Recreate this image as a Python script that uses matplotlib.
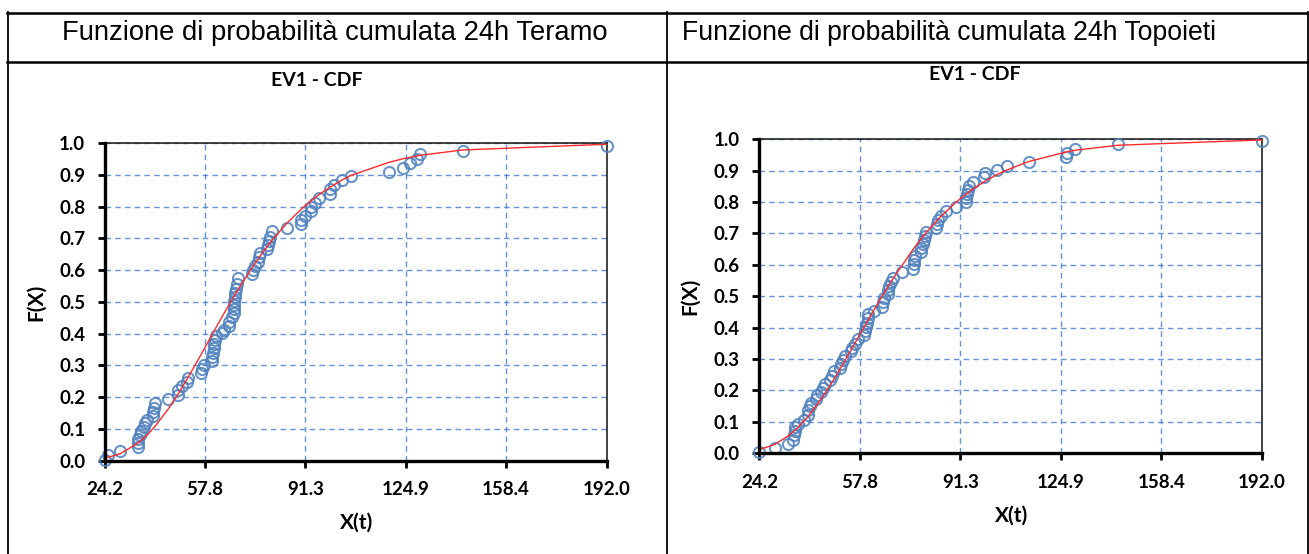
import matplotlib.pyplot as plt
from matplotlib.lines import Line2D

W, H = 1309, 554

# EV1 (Gumbel) CDF, piogge massime 24h - Teramo
teramo_x = [24.2, 25.3, 29.3, 35.2, 35.2, 35.4, 35.9, 36.5, 37.2, 37.8,
            38.3, 40.4, 40.5, 40.8, 41.0, 45.5, 48.6, 48.8, 50.2, 51.7,
            52.2, 56.4, 56.6, 57.5, 60.0, 60.2, 60.4, 60.7, 60.9, 61.1,
            61.4, 63.4, 64.0, 65.6, 65.9, 66.9, 67.3, 67.4, 67.5, 67.6,
            67.7, 67.8, 68.1, 68.4, 68.7, 73.6, 73.9, 74.5, 75.6, 75.9,
            76.2, 78.5, 78.8, 79.2, 79.6, 80.1, 85.2, 89.8, 90.0, 91.3,
            93.1, 93.3, 94.5, 96.0, 99.4, 99.6, 100.9, 103.5, 106.6, 119.3,
            123.8, 126.4, 128.6, 129.5, 143.9, 192.0]
teramo_p = [0.003, 0.017, 0.029, 0.042, 0.056, 0.068, 0.080, 0.093, 0.105, 0.118,
            0.129, 0.139, 0.153, 0.166, 0.181, 0.195, 0.208, 0.221, 0.234, 0.248,
            0.261, 0.275, 0.288, 0.301, 0.314, 0.326, 0.339, 0.354, 0.366, 0.380,
            0.393, 0.402, 0.410, 0.423, 0.436, 0.451, 0.464, 0.477, 0.491, 0.503,
            0.516, 0.529, 0.542, 0.556, 0.574, 0.587, 0.600, 0.614, 0.627, 0.640,
            0.653, 0.666, 0.680, 0.693, 0.705, 0.722, 0.733, 0.745, 0.758, 0.772,
            0.785, 0.800, 0.813, 0.827, 0.840, 0.855, 0.868, 0.884, 0.897, 0.909,
            0.923, 0.937, 0.950, 0.965, 0.977, 0.991]
teramo_fit_x = [24.2, 25.3, 29.3, 35.2, 38.3, 41.0, 45.5, 48.8, 52.2, 56.6,
                60.0, 61.4, 64.0, 67.5, 68.7, 73.6, 76.2, 80.1, 85.2, 90.0,
                93.3, 96.0, 99.6, 103.5, 106.6, 119.3, 123.8, 126.4, 129.5, 143.9,
                192.0]
teramo_fit_p = [0.008, 0.010, 0.021, 0.054, 0.079, 0.107, 0.163, 0.210, 0.264, 0.337,
                0.395, 0.419, 0.462, 0.519, 0.537, 0.610, 0.645, 0.694, 0.749, 0.793,
                0.820, 0.839, 0.862, 0.884, 0.899, 0.940, 0.951, 0.956, 0.962, 0.979,
                0.997]

# Topoieti
topoieti_x = [24.2, 29.3, 33.8, 35.3, 35.7, 36.0, 36.2, 37.1, 39.0, 40.3,
              40.5, 41.1, 41.6, 43.1, 43.4, 44.9, 45.6, 46.0, 47.8, 48.6,
              49.1, 51.2, 51.6, 52.3, 52.7, 54.7, 55.3, 56.0, 57.2, 59.2,
              59.4, 59.8, 60.1, 60.4, 60.6, 62.6, 65.0, 65.4, 65.7, 67.0,
              67.3, 67.6, 68.2, 68.7, 71.7, 75.4, 75.7, 75.9, 76.1, 78.1,
              78.3, 78.7, 79.2, 79.4, 79.9, 83.1, 83.4, 83.9, 84.8, 86.5,
              89.8, 93.2, 93.2, 93.5, 94.0, 94.3, 95.6, 99.2, 99.5, 103.4,
              106.8, 114.1, 126.5, 126.8, 129.6, 143.8, 192.0]
topoieti_p = [0.003, 0.016, 0.030, 0.043, 0.056, 0.069, 0.083, 0.094, 0.106, 0.120,
              0.136, 0.149, 0.160, 0.172, 0.184, 0.195, 0.208, 0.221, 0.234, 0.247,
              0.261, 0.271, 0.283, 0.296, 0.310, 0.326, 0.336, 0.349, 0.362, 0.376,
              0.388, 0.402, 0.415, 0.429, 0.442, 0.453, 0.466, 0.480, 0.494, 0.507,
              0.520, 0.533, 0.546, 0.559, 0.576, 0.588, 0.601, 0.614, 0.627, 0.640,
              0.653, 0.666, 0.679, 0.692, 0.705, 0.717, 0.730, 0.744, 0.757, 0.771,
              0.784, 0.799, 0.812, 0.826, 0.838, 0.851, 0.864, 0.879, 0.894, 0.902,
              0.916, 0.929, 0.943, 0.956, 0.969, 0.984, 0.995]
topoieti_fit_x = [24.2, 29.3, 33.8, 36.2, 40.3, 44.9, 49.1, 52.7, 57.2, 60.6,
                  65.7, 68.7, 75.9, 79.9, 84.8, 89.8, 93.2, 95.6, 99.5, 103.4,
                  106.8, 114.1, 126.8, 129.6, 143.8, 192.0]
topoieti_fit_p = [0.011, 0.027, 0.054, 0.073, 0.114, 0.172, 0.235, 0.293, 0.368, 0.425,
                  0.508, 0.554, 0.654, 0.703, 0.754, 0.799, 0.825, 0.842, 0.866, 0.887,
                  0.902, 0.929, 0.960, 0.965, 0.981, 0.998]

x_ticks = [24.2, 57.8, 91.3, 124.9, 158.4, 192.0]
y_ticks = [0.0, 0.1, 0.2, 0.3, 0.4, 0.5, 0.6, 0.7, 0.8, 0.9, 1.0]

headers = ["Funzione di probabilità cumulata 24h Teramo",
           "Funzione di probabilità cumulata 24h Topoieti"]

fig = plt.figure(figsize=(W / 100, H / 100), dpi=100)
fig.patch.set_facecolor('white')


def fx(px):
    return px / W


def fy(py):
    return 1 - py / H


# bordi della tabella
def hline(y, x0, x1, lw):
    fig.add_artist(Line2D([fx(x0), fx(x1)], [fy(y), fy(y)], color='black', lw=lw,
                          transform=fig.transFigure))


def vline(x, y0, y1, lw):
    fig.add_artist(Line2D([fx(x), fx(x)], [fy(y0), fy(y1)], color='black', lw=lw,
                          transform=fig.transFigure))


hline(13, 7, 1309, 1.8)
hline(61.5, 7, 1309, 1.8)
vline(8, 12, 554, 1.3)
vline(666.5, 12, 554, 1.3)
vline(1307.5, 12, 554, 1.3)

fig.text(fx(335), fy(33), headers[0], ha='center', va='center',
         fontsize=19.7, family='Liberation Sans')
fig.text(fx(682), fy(33), headers[1], ha='left', va='center',
         fontsize=19.2, family='Liberation Sans')

grid_col = '#4a7fd4'
mark_col = '#4f81bd'


def cdf_panel(box, title_xy, data_x, data_p, fit_x, fit_p, xlabel_y, ylabel_x):
    x0, y0, x1, y1 = box
    ax = fig.add_axes([fx(x0), fy(y1), (x1 - x0) / W, (y1 - y0) / H])
    ax.plot(data_x, data_p, 'o', ms=8, mfc='none', mec=mark_col, mew=1.5,
            alpha=0.85, zorder=3, clip_on=False)
    ax.plot(fit_x, fit_p, '-', color='#ff2a2a', lw=1.0, zorder=4, clip_on=False)
    ax.set_xlim(x_ticks[0], x_ticks[-1])
    ax.set_ylim(0, 1)
    ax.set_xticks(x_ticks)
    ax.set_yticks(y_ticks)
    ax.set_xticklabels(['%.1f' % v for v in x_ticks])
    ax.set_yticklabels(['%.1f' % v for v in y_ticks])
    for lab in ax.get_xticklabels() + ax.get_yticklabels():
        lab.set_family('Lato')
        lab.set_fontweight('bold')
        lab.set_fontsize(13.5)
    ax.tick_params(axis='both', direction='out', length=5, width=2, color='black')
    ax.tick_params(axis='x', pad=10)
    ax.tick_params(axis='y', pad=9)
    ax.grid(True, color=grid_col, lw=1.0, ls=(0, (4, 3)), alpha=0.85)
    ax.set_axisbelow(True)
    for s in ['left', 'bottom']:
        ax.spines[s].set_linewidth(2.4)
        ax.spines[s].set_color('black')
        ax.spines[s].set_zorder(5)
    for s in ['top', 'right']:
        ax.spines[s].set_linewidth(1.2)
        ax.spines[s].set_color('#222222')
    cx = (x0 + x1) / 2
    fig.text(fx(title_xy[0]), fy(title_xy[1]), 'EV1 - CDF', ha='center', va='center',
             fontsize=14, family='Lato', fontweight='bold')
    fig.text(fx(cx + 1), fy(xlabel_y), 'X(t)', ha='center', va='center',
             fontsize=15, family='Lato', fontweight='bold')
    fig.text(fx(ylabel_x), fy((y0 + y1) / 2), 'F(X)', ha='center', va='center',
             rotation=90, fontsize=15, family='Lato', fontweight='bold')
    return ax


cdf_panel((104.7, 143.3, 606.5, 460.5), (317, 80), teramo_x, teramo_p,
          teramo_fit_x, teramo_fit_p, 523, 36)
cdf_panel((759.3, 139.3, 1262.0, 453.0), (975, 75), topoieti_x, topoieti_p,
          topoieti_fit_x, topoieti_fit_p, 516, 690)

fig.savefig('out.png', dpi=100)
